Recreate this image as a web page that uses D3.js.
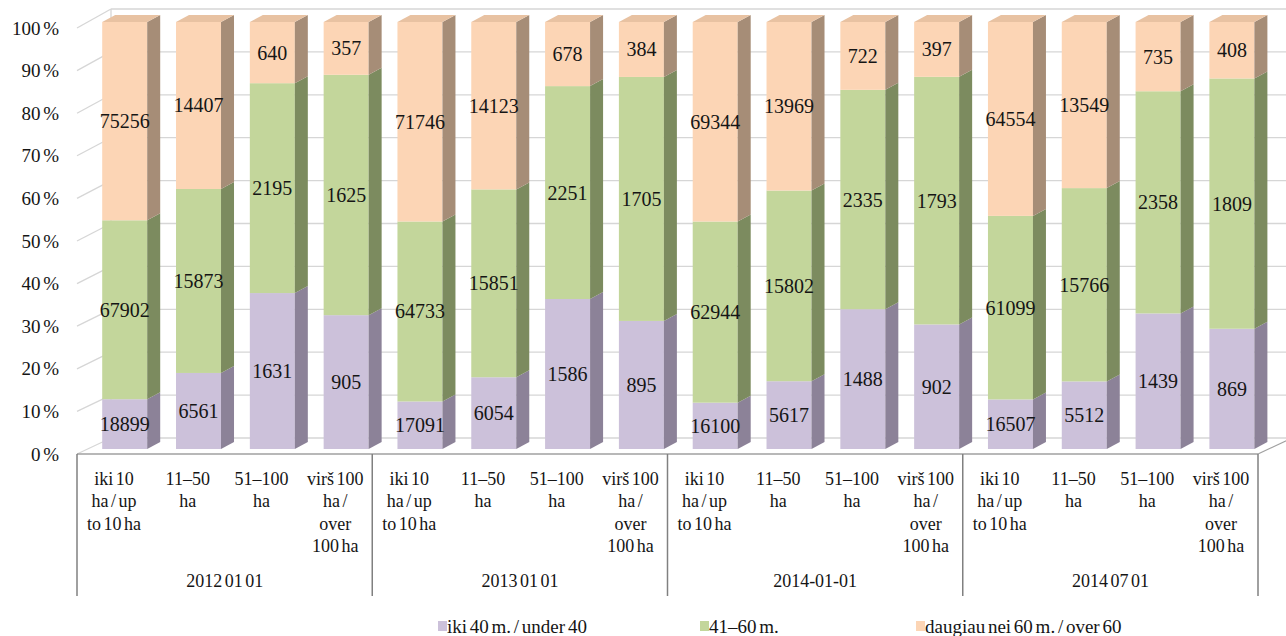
<!DOCTYPE html>
<html><head><meta charset="utf-8">
<script src="https://cdn.jsdelivr.net/npm/d3@7"></script>
<style>body{margin:0;background:#fff}svg{display:block}</style>
</head><body><svg id="c" width="1286" height="636" font-family="'Liberation Serif', 'Times New Roman', Times, serif" fill="#151515"></svg>
<script>
const groups = ["2012 01 01", "2013 01 01", "2014-01-01", "2014 07 01"];
const categories = ["iki 10 ha / up to 10 ha", "11–50 ha", "51–100 ha", "virš 100 ha / over 100 ha"];
const categoryLines = [["iki 10", "ha / up", "to 10 ha"], ["11–50", "ha"], ["51–100", "ha"], ["virš 100", "ha /", "over", "100 ha"]];
const seriesNames = ["iki 40 m. / under 40", "41–60 m.", "daugiau nei 60 m. / over 60"];
// values per bar, in order group by group, category by category
const under40 = [18899, 6561, 1631, 905, 17091, 6054, 1586, 895, 16100, 5617, 1488, 902, 16507, 5512, 1439, 869];
const m41to60 = [67902, 15873, 2195, 1625, 64733, 15851, 2251, 1705, 62944, 15802, 2335, 1793, 61099, 15766, 2358, 1809];
const over60 = [75256, 14407, 640, 357, 71746, 14123, 678, 384, 69344, 13969, 722, 397, 64554, 13549, 735, 408];
const yTicks = [0, 10, 20, 30, 40, 50, 60, 70, 80, 90, 100];
const yTickLabels = ["0 %", "10 %", "20 %", "30 %", "40 %", "50 %", "60 %", "70 %", "80 %", "90 %", "100 %"];

const frontCol = ["#CCC1DA", "#C3D69B", "#FCD5B5"];
const sideCol = ["#8C8298", "#7C8B5F", "#A68D77"];
const topCol = ["#B3A7C4", "#AFC285", "#E8C2A2"];

const svg = d3.select("#c");
const X0 = 77, X1 = 1258;
const DX = 34, DY = -16; // full depth of the walls
const yFront = d3.scaleLinear().domain([0, 100]).range([454, 28]);
const yBack = d3.scaleLinear().domain([0, 100]).range([438, 9]);
const yBar = d3.scaleLinear().domain([0, 100]).range([449, 22]);
const barOff = 10.8, barW = 45, bdx = 13, bdy = -7;

const xGroup = d3.scaleBand().domain(groups).range([X0, X1]).padding(0);
const xCat = d3.scaleBand().domain(categories).range([0, xGroup.bandwidth()]).padding(0);

// back wall grid
const grid = svg.append("g");
yTicks.forEach(t => {
  grid.append("line").attr("x1", X0 + DX).attr("x2", X1 + DX).attr("y1", yBack(t)).attr("y2", yBack(t))
    .attr("stroke", "#D6D6D6").attr("stroke-width", 1.3);
  grid.append("line").attr("x1", X0).attr("x2", X0 + DX).attr("y1", yFront(t)).attr("y2", yBack(t))
    .attr("stroke", "#D6D6D6").attr("stroke-width", 1.3);
});
grid.append("line").attr("x1", X0 + DX).attr("x2", X0 + DX).attr("y1", yBack(100)).attr("y2", yBack(0))
  .attr("stroke", "#D6D6D6").attr("stroke-width", 1.3);
// floor edges
grid.append("line").attr("x1", X0).attr("x2", X1).attr("y1", yFront(0)).attr("y2", yFront(0))
  .attr("stroke", "#A0A0A0").attr("stroke-width", 1.5);
grid.append("line").attr("x1", X1).attr("x2", X1 + DX).attr("y1", yFront(0)).attr("y2", yBack(0))
  .attr("stroke", "#A0A0A0").attr("stroke-width", 1.2);

// y labels
svg.append("g").selectAll("text").data(yTicks).join("text")
  .attr("x", 59).attr("y", d => yFront(d)).attr("dy", "0.35em").attr("text-anchor", "end")
  .attr("font-size", 19).attr("word-spacing", -2).text((d, i) => yTickLabels[i]);

// bars
const bars = [];
groups.forEach((g, gi) => categories.forEach((c, ci) => {
  const i = gi * 4 + ci;
  const vals = [under40[i], m41to60[i], over60[i]];
  const tot = d3.sum(vals);
  let cum = 0;
  const segs = vals.map((v, s) => { const a = cum; cum += v / tot * 100; return {s, v, a, b: cum}; });
  bars.push({g, c, segs});
}));
const bg = svg.append("g");
bars.forEach(bar => {
  const cx = xGroup(bar.g) + xCat(bar.c) + xCat.bandwidth() / 2 + barOff;
  const xl = cx - barW / 2, xr = cx + barW / 2;
  bar.segs.forEach(sg => {
    const y0 = yBar(sg.a), y1 = yBar(sg.b);
    bg.append("rect").attr("x", xl).attr("y", y1).attr("width", barW).attr("height", y0 - y1).attr("fill", frontCol[sg.s]);
    bg.append("path").attr("d", `M${xr},${y0}L${xr + bdx},${y0 + bdy}L${xr + bdx},${y1 + bdy}L${xr},${y1}Z`).attr("fill", sideCol[sg.s]);
    if (sg.s === 2) {
      bg.append("path").attr("d", `M${xl},${y1}L${xr},${y1}L${xr + bdx},${y1 + bdy}L${xl + bdx},${y1 + bdy}Z`).attr("fill", topCol[sg.s]);
    }
    bg.append("text").attr("x", cx).attr("y", (y0 + y1) / 2).attr("dy", "0.35em").attr("text-anchor", "middle")
      .attr("font-size", 20).text(sg.v);
  });
});

// category axis box
const ax = svg.append("g");
[...groups.map(g => xGroup(g)), X1].forEach(x => {
  ax.append("line").attr("x1", x).attr("x2", x).attr("y1", yFront(0)).attr("y2", 596).attr("stroke", "#808080").attr("stroke-width", 1.5);
});
groups.forEach(g => {
  categories.forEach((c, ci) => {
    const cx = xGroup(g) + xCat(c) + xCat.bandwidth() / 2;
    categoryLines[ci].forEach((ln, li) => {
      ax.append("text").attr("x", cx).attr("y", 485 + li * 22.3).attr("text-anchor", "middle").attr("font-size", 18)
        .attr("word-spacing", -2).text(ln);
    });
  });
  ax.append("text").attr("x", xGroup(g) + xGroup.bandwidth() / 2).attr("y", 587).attr("text-anchor", "middle").attr("font-size", 18)
    .attr("word-spacing", -2).text(g);
});

// legend
const legX = [438, 700, 916];
const lg = svg.append("g");
seriesNames.forEach((n, i) => {
  lg.append("rect").attr("x", legX[i]).attr("y", 621).attr("width", 9).attr("height", 10).attr("fill", frontCol[i]);
  lg.append("text").attr("x", legX[i] + 9).attr("y", 633).attr("font-size", 19).attr("word-spacing", -2).text(n);
});
</script></body></html>
